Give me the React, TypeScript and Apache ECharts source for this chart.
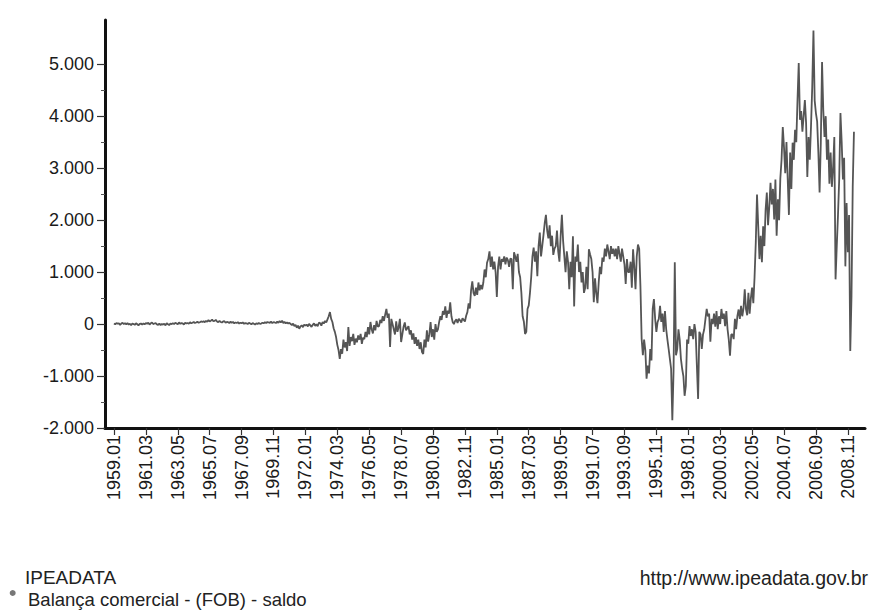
import React, { useEffect, useRef } from "react";
import * as echarts from "echarts";

// Monthly trade balance (US$ million), 1959.01 – 2009.04
const y1959 = [10, -5, 20, 5, 15, -15, 10, 25, 0, 15, -5, 20];
const y1960 = [-10, 5, -20, 10, 0, -15, 15, -5, -25, 5, 10, -10];
const y1961 = [10, -5, 20, 5, 25, -10, 15, 30, 0, 10, 20, -5];
const y1962 = [-15, 10, -20, 0, -10, 5, -25, 15, -5, -20, 10, 0];
const y1963 = [15, 0, 25, 10, -5, 30, 5, 20, 15, -10, 25, 10];
const y1964 = [20, 5, 35, 15, 25, 40, 20, 30, 45, 25, 35, 50];
const y1965 = [40, 55, 35, 60, 45, 75, 50, 65, 85, 55, 60, 80];
const y1966 = [50, 35, 60, 40, 30, 50, 55, 25, 40, 35, 20, 45];
const y1967 = [25, 40, 15, 30, 20, 35, 10, 25, 15, 30, 5, 20];
const y1968 = [15, 0, 25, 10, -5, 20, 5, -10, 15, 0, 20, 5];
const y1969 = [10, 25, 15, 35, 20, 40, 30, 25, 45, 20, 35, 30];
const y1970 = [20, 45, 25, 60, 30, 65, 20, 40, 15, 30, 10, 25];
const y1971 = [0, -20, 10, -40, -15, -70, -30, -90, -45, -25, -60, -10];
const y1972 = [-30, -10, -45, 5, -25, -55, -15, 15, -35, -5, -40, 25];
const y1973 = [20, -30, 40, 10, 60, 30, 90, 150, 230, 100, 40, -80];
const y1974 = [-150, -250, -400, -500, -670, -480, -570, -300, -450, -350, -520, -60];
const y1975 = [-420, -250, -330, -190, -400, -280, -350, -220, -300, -190, -380, -260];
const y1976 = [-290, -150, -250, -60, -200, 40, -100, -180, -20, -120, 60, -50];
const y1977 = [-40, 80, 20, 150, 60, 180, 290, 120, 200, -440, 100, 0];
const y1978 = [-100, -200, 50, -150, -60, 100, -345, -200, -50, 30, -120, -80];
const y1979 = [-40, -200, -120, -300, -180, -380, -250, -420, -300, -480, -350, -540];
const y1980 = [-575, -300, -450, -120, -340, -200, 40, -250, -100, -300, 0, -150];
const y1981 = [-100, 40, 150, 80, 250, 180, 340, 120, 260, 200, 420, 150];
const y1982 = [40, 0, 60, 90, 20, 100, 70, 30, 110, 80, 50, 160];
const y1983 = [230, 400, 300, 650, 820, 600, 540, 700, 560, 800, 650, 750];
const y1984 = [670, 800, 1050, 900, 1180, 1250, 1400, 1100, 1300, 1050, 1200, 1000];
const y1985 = [520, 1100, 1300, 1050, 1250, 1200, 1300, 1150, 1280, 1230, 1100, 1260];
const y1986 = [1250, 670, 1380, 1300, 1200, 1350, 1000, 900, 600, 150, 50, -190];
const y1987 = [-150, 290, 360, 600, 900, 1300, 1470, 1200, 1400, 920, 1500, 1760];
const y1988 = [1300, 1500, 1710, 1940, 2100, 1800, 1650, 1900, 1500, 1700, 1330, 1450];
const y1989 = [1500, 1800, 1400, 1200, 1700, 2100, 1600, 1300, 1000, 1400, 1200, 670];
const y1990 = [1200, 900, 1690, 340, 1300, 1200, 1530, 1000, 1200, 800, 1000, 600];
const y1991 = [700, 1100, 670, 1440, 1340, 1250, 1000, 420, 880, 600, 400, 800];
const y1992 = [1100, 960, 1280, 1200, 1450, 1300, 1530, 1400, 1250, 1500, 1350, 1450];
const y1993 = [1300, 1450, 1250, 1500, 1350, 1200, 1450, 1300, 1150, 770, 1250, 1000];
const y1994 = [1000, 1200, 700, 1440, 1100, 670, 1300, 1530, 1450, 730, -290, -600];
const y1995 = [-300, -500, -1050, -800, -950, -480, -700, 290, 480, 100, -150, 40];
const y1996 = [100, 350, 40, 200, -150, 250, -100, -300, -480, -670, -860, -1850];
const y1997 = [-900, 1190, -600, -480, -100, -300, -670, -860, -1000, -1380, -1190, -300];
const y1998 = [-380, -40, -230, -100, -290, 0, -150, -800, -1440, -150, -200, -480];
const y1999 = [-200, -100, 100, 290, 150, 200, -340, 100, 0, 200, -50, 250];
const y2000 = [-100, 150, 0, 290, 100, 200, -40, 250, -100, -300, -610, -200];
const y2001 = [-200, -290, 100, -100, 150, 280, 100, 350, 150, 300, 670, 290];
const y2002 = [170, 600, 200, 500, 700, 400, 900, 1570, 2490, 1880, 1250, 1700];
const y2003 = [1190, 1880, 1500, 2200, 2530, 1900, 2260, 2720, 2300, 2600, 2010, 2780];
const y2004 = [1700, 2400, 2000, 2800, 3160, 3790, 3400, 2900, 3500, 2800, 2100, 3300];
const y2005 = [2600, 3490, 3160, 3740, 3500, 4310, 5020, 3930, 4100, 3700, 4000, 4310];
const y2006 = [3870, 2830, 3600, 3160, 3800, 4560, 5650, 4300, 4060, 3900, 3300, 2530];
const y2007 = [3500, 5040, 4120, 3600, 4000, 3160, 3550, 2700, 3300, 2640, 3000, 3600];
const y2008 = [860, 1500, 2100, 2800, 4060, 3500, 2780, 3200, 1110, 2330, 1380, 2100];
const y2009 = [-520, 540, 2640, 3700];

const FIRST_YEAR = 1959;

const X_TICK_LABELS = [
  "1959.01", "1961.03", "1963.05", "1965.07", "1967.09", "1969.11",
  "1972.01", "1974.03", "1976.05", "1978.07", "1980.09", "1982.11",
  "1985.01", "1987.03", "1989.05", "1991.07", "1993.09", "1995.11",
  "1998.01", "2000.03", "2002.05", "2004.07", "2006.09", "2008.11",
];

const Y_TICKS = [-2000, -1000, 0, 1000, 2000, 3000, 4000, 5000];
const Y_MINOR_TICKS = [-1500, -500, 500, 1500, 2500, 3500, 4500];

const SERIES_NAME = "Balança comercial - (FOB) - saldo";

const monthIndex = (label: string) => {
  const [y, m] = label.split(".").map(Number);
  return (y - FIRST_YEAR) * 12 + (m - 1);
};

const fmtY = (v: number) => {
  if (v === 0) return "0";
  const sign = v < 0 ? "-" : "";
  const a = Math.abs(v);
  const th = Math.floor(a / 1000);
  const rest = String(a % 1000).padStart(3, "0");
  return th > 0 ? `${sign}${th}.${rest}` : `${sign}${a}`;
};

const FONT = '"Liberation Sans", Arial, Helvetica, sans-serif';

export default function App() {
  const ref = useRef<HTMLDivElement>(null);

  useEffect(() => {
    document.body.style.margin = "0";
    if (!ref.current) return;
    const chart = echarts.init(ref.current, undefined, { renderer: "svg" });

    const years = [
      y1959, y1960, y1961, y1962, y1963, y1964, y1965, y1966, y1967, y1968,
      y1969, y1970, y1971, y1972, y1973, y1974, y1975, y1976, y1977, y1978,
      y1979, y1980, y1981, y1982, y1983, y1984, y1985, y1986, y1987, y1988,
      y1989, y1990, y1991, y1992, y1993, y1994, y1995, y1996, y1997, y1998,
      y1999, y2000, y2001, y2002, y2003, y2004, y2005, y2006, y2007, y2008,
      y2009,
    ];
    const values = years.flat();
    const data = values.map((v, i) => [i, v]);

    const xTickVals = X_TICK_LABELS.map(monthIndex);
    const labelByIndex: Record<number, string> = {};
    X_TICK_LABELS.forEach((l) => (labelByIndex[monthIndex(l)] = l));

    chart.setOption({
      animation: false,
      backgroundColor: "#ffffff",
      grid: { left: 105, right: 7, top: 20, bottom: 183 },
      xAxis: {
        type: "value",
        min: -7.3,
        max: 612,
        axisLine: { show: true, onZero: false, lineStyle: { color: "#111", width: 3 } },
        axisTick: {
          show: true,
          customValues: xTickVals,
          length: 7,
          lineStyle: { color: "#333", width: 1.2 },
        },
        axisLabel: {
          show: true,
          customValues: xTickVals,
          rotate: 90,
          margin: 7,
          fontSize: 18,
          color: "#1a1a1a",
          fontFamily: FONT,
          formatter: (v: number) => labelByIndex[Math.round(v)] ?? "",
        },
        splitLine: { show: false },
      },
      yAxis: [
        {
          type: "value",
          min: -2000,
          max: 5850,
          axisLine: { show: true, onZero: false, lineStyle: { color: "#111", width: 3 } },
          axisTick: {
            show: true,
            customValues: Y_TICKS,
            length: 8,
            lineStyle: { color: "#333", width: 1.2 },
          },
          axisLabel: {
            show: true,
            customValues: Y_TICKS,
            margin: 11,
            fontSize: 18,
            color: "#1a1a1a",
            fontFamily: FONT,
            formatter: (v: number) => fmtY(v),
          },
          splitLine: { show: false },
        },
        {
          type: "value",
          min: -2000,
          max: 5850,
          position: "left",
          axisLine: { show: false, onZero: false },
          axisTick: {
            show: true,
            customValues: Y_MINOR_TICKS,
            length: 4,
            lineStyle: { color: "#555", width: 1 },
          },
          axisLabel: { show: false },
          splitLine: { show: false },
        },
      ],
      series: [
        {
          name: SERIES_NAME,
          type: "line",
          yAxisIndex: 0,
          data,
          symbol: "none",
          showSymbol: false,
          lineStyle: { color: "#555", width: 1.8 },
        },
      ],
      graphic: [
        {
          type: "text",
          x: 25,
          y: 577,
          style: {
            text: "IPEADATA",
            fontSize: 19,
            fontFamily: FONT,
            fill: "#222",
            textVerticalAlign: "middle",
          },
        },
        {
          type: "circle",
          shape: { cx: 12.7, cy: 593, r: 3 },
          style: { fill: "#777" },
        },
        {
          type: "text",
          x: 28,
          y: 599,
          style: {
            text: SERIES_NAME,
            fontSize: 18.5,
            fontFamily: FONT,
            fill: "#222",
            textVerticalAlign: "middle",
          },
        },
        {
          type: "text",
          x: 868,
          y: 578,
          style: {
            text: "http://www.ipeadata.gov.br",
            fontSize: 19.5,
            fontFamily: FONT,
            fill: "#222",
            textAlign: "right",
            textVerticalAlign: "middle",
          },
        },
      ],
    });

    return () => chart.dispose();
  }, []);

  return (
    <div
      ref={ref}
      style={{ position: "absolute", left: 0, top: 0, width: 872, height: 611 }}
    />
  );
}
